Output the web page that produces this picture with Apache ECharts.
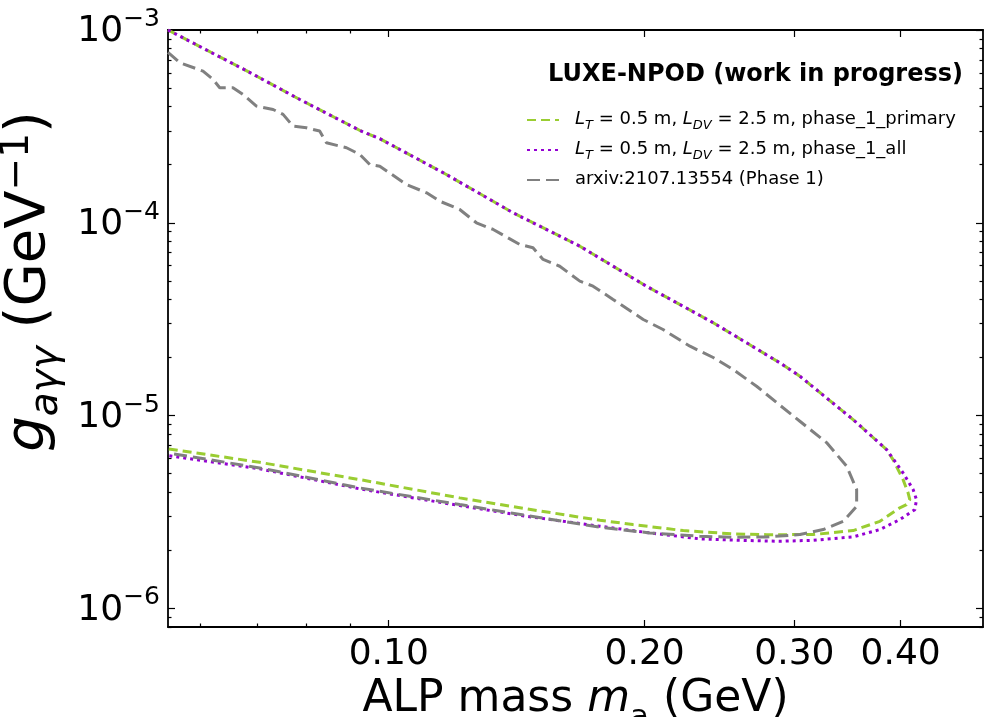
<!DOCTYPE html>
<html><head><meta charset="utf-8">
<script src="https://cdn.jsdelivr.net/npm/echarts@6/dist/echarts.min.js"></script>
<style>html,body{margin:0;padding:0;background:#fff}#c{width:986px;height:717px}</style>
</head><body><div id="c"></div>
<script>
// ---- data ----
const xMajorTicks = [0.1, 0.2, 0.3, 0.4];
const xMinorTicks = [0.06, 0.07, 0.08, 0.09];
const yMajorTicks = [1e-6, 1e-5, 1e-4, 1e-3];
const yMinorTicks = [8e-7, 9e-7, 2e-6, 3e-6, 4e-6, 5e-6, 6e-6, 7e-6, 8e-6, 9e-6,
  2e-5, 3e-5, 4e-5, 5e-5, 6e-5, 7e-5, 8e-5, 9e-5, 2e-4, 3e-4, 4e-4, 5e-4, 6e-4, 7e-4, 8e-4, 9e-4];
const xRange = [0.055, 0.5];
const yRange = [8e-7, 1e-3];

const primaryX = [0.055, 0.0686, 0.0786, 0.0925, 0.0976, 0.1169, 0.1400, 0.1678, 0.2009, 0.2408, 0.2884, 0.3045, 0.3517, 0.3851,
  0.3919, 0.4027, 0.4082, 0.4101, 0.4064, 0.3991, 0.3782, 0.3517, 0.3157, 0.2782, 0.2539, 0.2220, 0.1937, 0.1772, 0.1452, 0.1212, 0.0925, 0.0705, 0.055];
const primaryY = [1.0e-3, 6.03e-4, 4.36e-4, 3.01e-4, 2.73e-4, 1.78e-4, 1.127e-4, 7.56e-5, 4.69e-5, 3.03e-5, 1.877e-5, 1.60e-5, 9.53e-6, 6.66e-6,
  5.91e-6, 4.65e-6, 3.97e-6, 3.66e-6, 3.453e-6, 3.32e-6, 2.827e-6, 2.531e-6, 2.413e-6, 2.41e-6, 2.432e-6, 2.531e-6, 2.72e-6, 2.862e-6, 3.28e-6, 3.74e-6, 4.65e-6, 5.72e-6, 6.72e-6];

const allX = [0.055, 0.0686, 0.0786, 0.0925, 0.0976, 0.1169, 0.1400, 0.1678, 0.2009, 0.2408, 0.2884, 0.3045, 0.3517, 0.3851, 0.4027, 0.4138, 0.4176, 0.4157,
  0.3991, 0.3782, 0.3517, 0.3157, 0.2884, 0.2588, 0.2322, 0.2028, 0.1772, 0.1452, 0.1212, 0.0925, 0.0705, 0.055];
const allY = [1.0e-3, 6.03e-4, 4.36e-4, 3.01e-4, 2.73e-4, 1.78e-4, 1.127e-4, 7.56e-5, 4.69e-5, 3.03e-5, 1.877e-5, 1.60e-5, 9.53e-6, 6.66e-6, 5.04e-6, 4.13e-6, 3.66e-6, 3.25e-6,
  2.886e-6, 2.562e-6, 2.347e-6, 2.254e-6, 2.227e-6, 2.254e-6, 2.292e-6, 2.462e-6, 2.665e-6, 3.003e-6, 3.41e-6, 4.164e-6, 5.29e-6, 6.2e-6];

const arxivX = [0.055, 0.05677, 0.06047, 0.06213, 0.06327, 0.06558, 0.06738, 0.06988, 0.07311, 0.07511, 0.07717, 0.08001, 0.08294, 0.08447, 0.08919,
  0.0925, 0.09499, 0.0976, 0.1049, 0.1108, 0.1148, 0.1212, 0.1268, 0.1327, 0.1426, 0.1478, 0.1519, 0.1589, 0.1678, 0.1739, 0.1836, 0.1992, 0.2102,
  0.2261, 0.2408, 0.2541, 0.2708, 0.2859, 0.3045, 0.3273, 0.3456, 0.3551, 0.3551, 0.3424, 0.3243, 0.3045, 0.2782, 0.2541, 0.2322, 0.2028, 0.1772,
  0.1452, 0.1212, 0.0925, 0.0705, 0.055];
const arxivY = [7.65e-4, 6.77e-4, 6.12e-4, 5.54e-4, 5.02e-4, 5.02e-4, 4.63e-4, 4.03e-4, 3.87e-4, 3.65e-4, 3.17e-4, 3.11e-4, 2.99e-4, 2.60e-4, 2.45e-4,
  2.26e-4, 2.007e-4, 1.966e-4, 1.58e-4, 1.431e-4, 1.294e-4, 1.172e-4, 1.0e-4, 9.23e-5, 7.72e-5, 7.42e-5, 6.45e-5, 5.95e-5, 4.98e-5, 4.69e-5, 4.0e-5,
  3.15e-5, 2.795e-5, 2.289e-5, 2.0e-5, 1.733e-5, 1.419e-5, 1.168e-5, 9.34e-6, 7.24e-6, 5.46e-6, 4.13e-6, 3.38e-6, 2.827e-6, 2.562e-6, 2.413e-6,
  2.347e-6, 2.336e-6, 2.364e-6, 2.462e-6, 2.633e-6, 3.03e-6, 3.453e-6, 4.21e-6, 5.35e-6, 6.40e-6];

const seriesNames = ['phase_1_primary', 'phase_1_all', 'arxiv:2107.13554 (Phase 1)'];
const titleBold = 'LUXE-NPOD';
const titleRest = '(work in progress)';

// ---- chart ----
const FONT = 'DejaVu Sans';
const zip = (xs, ys) => xs.map((x, i) => [x, ys[i]]);
const chart = echarts.init(document.getElementById('c'), null, {renderer: 'canvas'});

const legendRich = {
  sp: {width: 11, lineHeight: 20},
  n: {fontFamily: FONT, fontSize: 18, color: '#000', lineHeight: 20, verticalAlign: 'top'},
  i: {fontFamily: FONT, fontSize: 18, fontStyle: 'italic', color: '#000', lineHeight: 20, verticalAlign: 'top'},
  s: {fontFamily: FONT, fontSize: 13, fontStyle: 'italic', color: '#000', lineHeight: 13, padding: [9, 0, 0, 0], verticalAlign: 'top'}
};
function legendFmt(name) {
  if (name === seriesNames[2]) return '{sp|}{n|' + name + '}';
  return '{sp|}{i|L}{s|T}{n| = 0.5 m, }{i|L}{s|DV}{n| = 2.5 m, ' + name + '}';
}

function baseX(pos, ticks, len, showLine, showLabel) {
  return {
    type: 'log', position: pos, min: xRange[0], max: xRange[1], gridIndex: 0,
    axisLine: {show: showLine, lineStyle: {color: '#000', width: 1.8}},
    axisTick: {show: true, inside: true, length: len, customValues: ticks, lineStyle: {color: '#000', width: 1.2}},
    axisLabel: {show: showLabel, customValues: ticks},
    splitLine: {show: false}, minorTick: {show: false}, minorSplitLine: {show: false}
  };
}
function baseY(pos, ticks, len, showLine, showLabel) {
  return {
    type: 'log', position: pos, min: yRange[0], max: yRange[1], gridIndex: 0,
    axisLine: {show: showLine, lineStyle: {color: '#000', width: 1.8}},
    axisTick: {show: true, inside: true, length: len, customValues: ticks, lineStyle: {color: '#000', width: 1.2}},
    axisLabel: {show: showLabel, customValues: ticks},
    splitLine: {show: false}, minorTick: {show: false}, minorSplitLine: {show: false}
  };
}

const xMain = baseX('bottom', xMajorTicks, 7, true, true);
xMain.axisLabel = {
  show: true, customValues: xMajorTicks, margin: 10,
  fontFamily: FONT, fontSize: 36, color: '#000',
  formatter: v => Number(v).toFixed(2)
};
xMain.name = '{n|ALP mass }{i|m}{s|a}{n| (GeV)}';
xMain.nameLocation = 'middle';
xMain.nameGap = 44;
xMain.nameTextStyle = {
  rich: {
    n: {fontFamily: FONT, fontSize: 44, color: '#000', lineHeight: 50, verticalAlign: 'top'},
    i: {fontFamily: FONT, fontSize: 44, fontStyle: 'italic', color: '#000', lineHeight: 50, verticalAlign: 'top'},
    s: {fontFamily: FONT, fontSize: 31, color: '#000', lineHeight: 31, padding: [25, 0, 0, 0], verticalAlign: 'top'}
  }
};

const yMain = baseY('left', yMajorTicks, 7, true, true);
yMain.axisLabel = {
  show: true, customValues: yMajorTicks, margin: 8,
  formatter: v => '{m|10}{p|\u2212' + Math.round(-Math.log10(v)) + '}',
  rich: {
    m: {fontFamily: FONT, fontSize: 36, color: '#000', lineHeight: 40, verticalAlign: 'bottom'},
    p: {fontFamily: FONT, fontSize: 25, color: '#000', lineHeight: 25, padding: [0, 0, 18, 0], verticalAlign: 'bottom'}
  }
};
yMain.name = '{g|g}{s|a\u03b3\u03b3}{n| (GeV}{p|\u22121}{n|)}';
yMain.nameLocation = 'middle';
yMain.nameRotate = 90;
yMain.nameGap = 82;
yMain.nameTextStyle = {
  padding: [0, 0, 0, 94],
  rich: {
    g: {fontFamily: FONT, fontSize: 56, fontStyle: 'italic', color: '#000', lineHeight: 62, verticalAlign: 'middle'},
    s: {fontFamily: FONT, fontSize: 39, fontStyle: 'italic', color: '#000', lineHeight: 39, padding: [29, 0, 0, 0], verticalAlign: 'top'},
    n: {fontFamily: FONT, fontSize: 56, color: '#000', lineHeight: 62, verticalAlign: 'middle'},
    p: {fontFamily: FONT, fontSize: 39, color: '#000', lineHeight: 39, padding: [0, 0, 29, 0], verticalAlign: 'top'}
  }
};

const option = {
  animation: false,
  backgroundColor: '#fff',
  grid: {left: 168, right: 3, top: 30, bottom: 90, containLabel: false, outerBoundsMode: 'none'},
  title: {
    text: '{b|' + titleBold + '}{n| ' + titleRest + '}',
    right: 23, top: 63, padding: 0,
    textStyle: {
      rich: {
        b: {fontFamily: FONT, fontSize: 24, fontWeight: 'bold', color: '#000'},
        n: {fontFamily: FONT, fontSize: 24, color: '#000'}
      }
    }
  },
  legend: {
    orient: 'vertical', left: 521, top: 105, itemWidth: 32, itemHeight: 12, itemGap: 8,
    data: seriesNames,
    formatter: legendFmt,
    textStyle: {rich: legendRich},
    itemStyle: {color: 'rgba(0,0,0,0)', borderWidth: 0, opacity: 0}
  },
  xAxis: [
    xMain,
    baseX('bottom', xMinorTicks, 3.5, false, false),
    baseX('top', xMajorTicks, 7, true, false),
    baseX('top', xMinorTicks, 3.5, false, false)
  ],
  yAxis: [
    yMain,
    baseY('left', yMinorTicks, 3.5, false, false),
    baseY('right', yMajorTicks, 7, true, false),
    baseY('right', yMinorTicks, 3.5, false, false)
  ],
  series: [
    {name: seriesNames[0], type: 'line', data: zip(primaryX, primaryY), symbol: 'none', z: 2,
      lineStyle: {color: '#9acd32', width: 3, type: [9, 5]}, itemStyle: {color: '#9acd32'}},
    {name: seriesNames[1], type: 'line', data: zip(allX, allY), symbol: 'none', z: 3,
      lineStyle: {color: '#9400d3', width: 3, type: [3, 4]}, itemStyle: {color: '#9400d3'}},
    {name: seriesNames[2], type: 'line', data: zip(arxivX, arxivY), symbol: 'none', z: 4,
      lineStyle: {color: '#808080', width: 3, type: [13, 6]}, itemStyle: {color: '#808080'}}
  ]
};
chart.setOption(option);
</script>
</body></html>
